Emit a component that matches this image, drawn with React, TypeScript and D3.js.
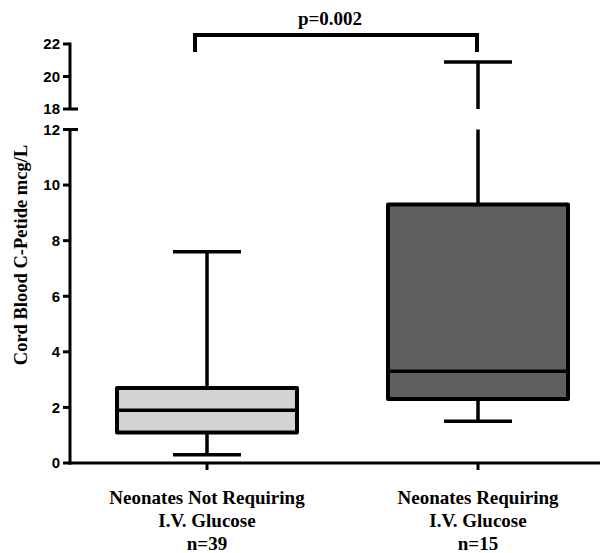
import React from "react";
import * as d3 from "d3";

const categories = ["Neonates Not Requiring|I.V. Glucose|n=39", "Neonates Requiring|I.V. Glucose|n=15"];
const whiskerLow = [0.3, 1.5];
const q1 = [1.1, 2.3];
const median = [1.9, 3.3];
const q3 = [2.7, 9.3];
const whiskerHigh = [7.6, 20.9];
const fills = ["#d3d3d3", "#606060"];
const lowTicks = [0, 2, 4, 6, 8, 10, 12];
const highTicks = [18, 20, 22];
const pLabel = "p=0.002";

export default function App() {
  const W = 606, H = 553;
  const axisX = 70;
  const yLow = d3.scaleLinear().domain([0, 12]).range([463, 129.5]);
  const yHigh = d3.scaleLinear().domain([18, 22]).range([109, 44]);
  const x = d3.scalePoint<string>().domain(categories).range([207, 478]);
  const boxHalf = 90;
  const capHalf = 34;
  const yv = (v: number) => (v <= 12 ? yLow(v) : yHigh(v));
  const sw = 3.5;
  const tickFont = "'Liberation Sans', Arial, sans-serif";
  const serif = "'Liberation Serif', 'Times New Roman', serif";

  return (
    <svg width={W} height={H} style={{ position: "absolute", left: 0, top: 0 }}>
      <rect width={W} height={H} fill="#fff" />
      {/* y axis lower */}
      <line x1={axisX} x2={axisX} y1={yLow(0) + 1.5} y2={yLow(12)} stroke="#000" strokeWidth={3} />
      <line x1={63} x2={78} y1={yLow(12)} y2={yLow(12)} stroke="#000" strokeWidth={3} />
      {lowTicks.filter(t => t !== 12).map(t => (
        <line key={"lt" + t} x1={63} x2={axisX} y1={yLow(t)} y2={yLow(t)} stroke="#000" strokeWidth={3} />
      ))}
      {lowTicks.map(t => (
        <text key={"ll" + t} x={60} y={yLow(t)} dy="0.36em" textAnchor="end" fontFamily={tickFont} fontWeight="bold" fontSize={15}>{t}</text>
      ))}
      {/* y axis upper */}
      <line x1={axisX} x2={axisX} y1={yHigh(18)} y2={yHigh(22) - 1.5} stroke="#000" strokeWidth={3} />
      <line x1={63} x2={78} y1={yHigh(18)} y2={yHigh(18)} stroke="#000" strokeWidth={3} />
      {highTicks.filter(t => t !== 18).map(t => (
        <line key={"ht" + t} x1={63} x2={axisX} y1={yHigh(t)} y2={yHigh(t)} stroke="#000" strokeWidth={3} />
      ))}
      {highTicks.map(t => (
        <text key={"hl" + t} x={60} y={yHigh(t)} dy="0.36em" textAnchor="end" fontFamily={tickFont} fontWeight="bold" fontSize={15}>{t}</text>
      ))}
      {/* x axis */}
      <line x1={axisX - 1.5} x2={600} y1={yLow(0)} y2={yLow(0)} stroke="#000" strokeWidth={3} />
      {categories.map(c => (
        <line key={"xt" + c} x1={x(c)} x2={x(c)} y1={yLow(0)} y2={yLow(0) + 7} stroke="#000" strokeWidth={3} />
      ))}
      {/* boxes */}
      {categories.map((c, i) => {
        const cx = x(c) as number;
        const hi = whiskerHigh[i];
        const whisk = hi > 12 ? (
          <g>
            <line x1={cx} x2={cx} y1={yLow(q3[i])} y2={yLow(12)} stroke="#000" strokeWidth={sw} />
            <line x1={cx} x2={cx} y1={yHigh(18)} y2={yHigh(hi)} stroke="#000" strokeWidth={sw} />
          </g>
        ) : (
          <line x1={cx} x2={cx} y1={yLow(q3[i])} y2={yLow(hi)} stroke="#000" strokeWidth={sw} />
        );
        return (
          <g key={c}>
            {whisk}
            <line x1={cx - capHalf} x2={cx + capHalf} y1={yv(hi)} y2={yv(hi)} stroke="#000" strokeWidth={sw} />
            <line x1={cx} x2={cx} y1={yLow(q1[i])} y2={yLow(whiskerLow[i])} stroke="#000" strokeWidth={sw} />
            <line x1={cx - capHalf} x2={cx + capHalf} y1={yLow(whiskerLow[i])} y2={yLow(whiskerLow[i])} stroke="#000" strokeWidth={sw} />
            <rect x={cx - boxHalf} y={yLow(q3[i])} width={boxHalf * 2} height={yLow(q1[i]) - yLow(q3[i])} fill={fills[i]} stroke="#000" strokeWidth={4} strokeLinejoin="round" />
            <line x1={cx - boxHalf} x2={cx + boxHalf} y1={yLow(median[i])} y2={yLow(median[i])} stroke="#000" strokeWidth={sw} />
          </g>
        );
      })}
      {/* bracket */}
      <path d={`M${195},${52} V${35} H${477} V${52}`} fill="none" stroke="#000" strokeWidth={4} />
      <text x={330} y={25} textAnchor="middle" fontFamily={serif} fontWeight="bold" fontSize={19}>{pLabel}</text>
      {/* x labels */}
      {categories.map(c => (
        <text key={"xl" + c} textAnchor="middle" fontFamily={serif} fontWeight="bold" fontSize={19}>
          {c.split("|").map((s, j) => (
            <tspan key={j} x={x(c)} y={504 + j * 23}>{s}</tspan>
          ))}
        </text>
      ))}
      {/* y title */}
      <text transform={`translate(27,255) rotate(-90)`} textAnchor="middle" fontFamily={serif} fontWeight="bold" fontSize={18.5}>Cord Blood C-Petide mcg/L</text>
    </svg>
  );
}
